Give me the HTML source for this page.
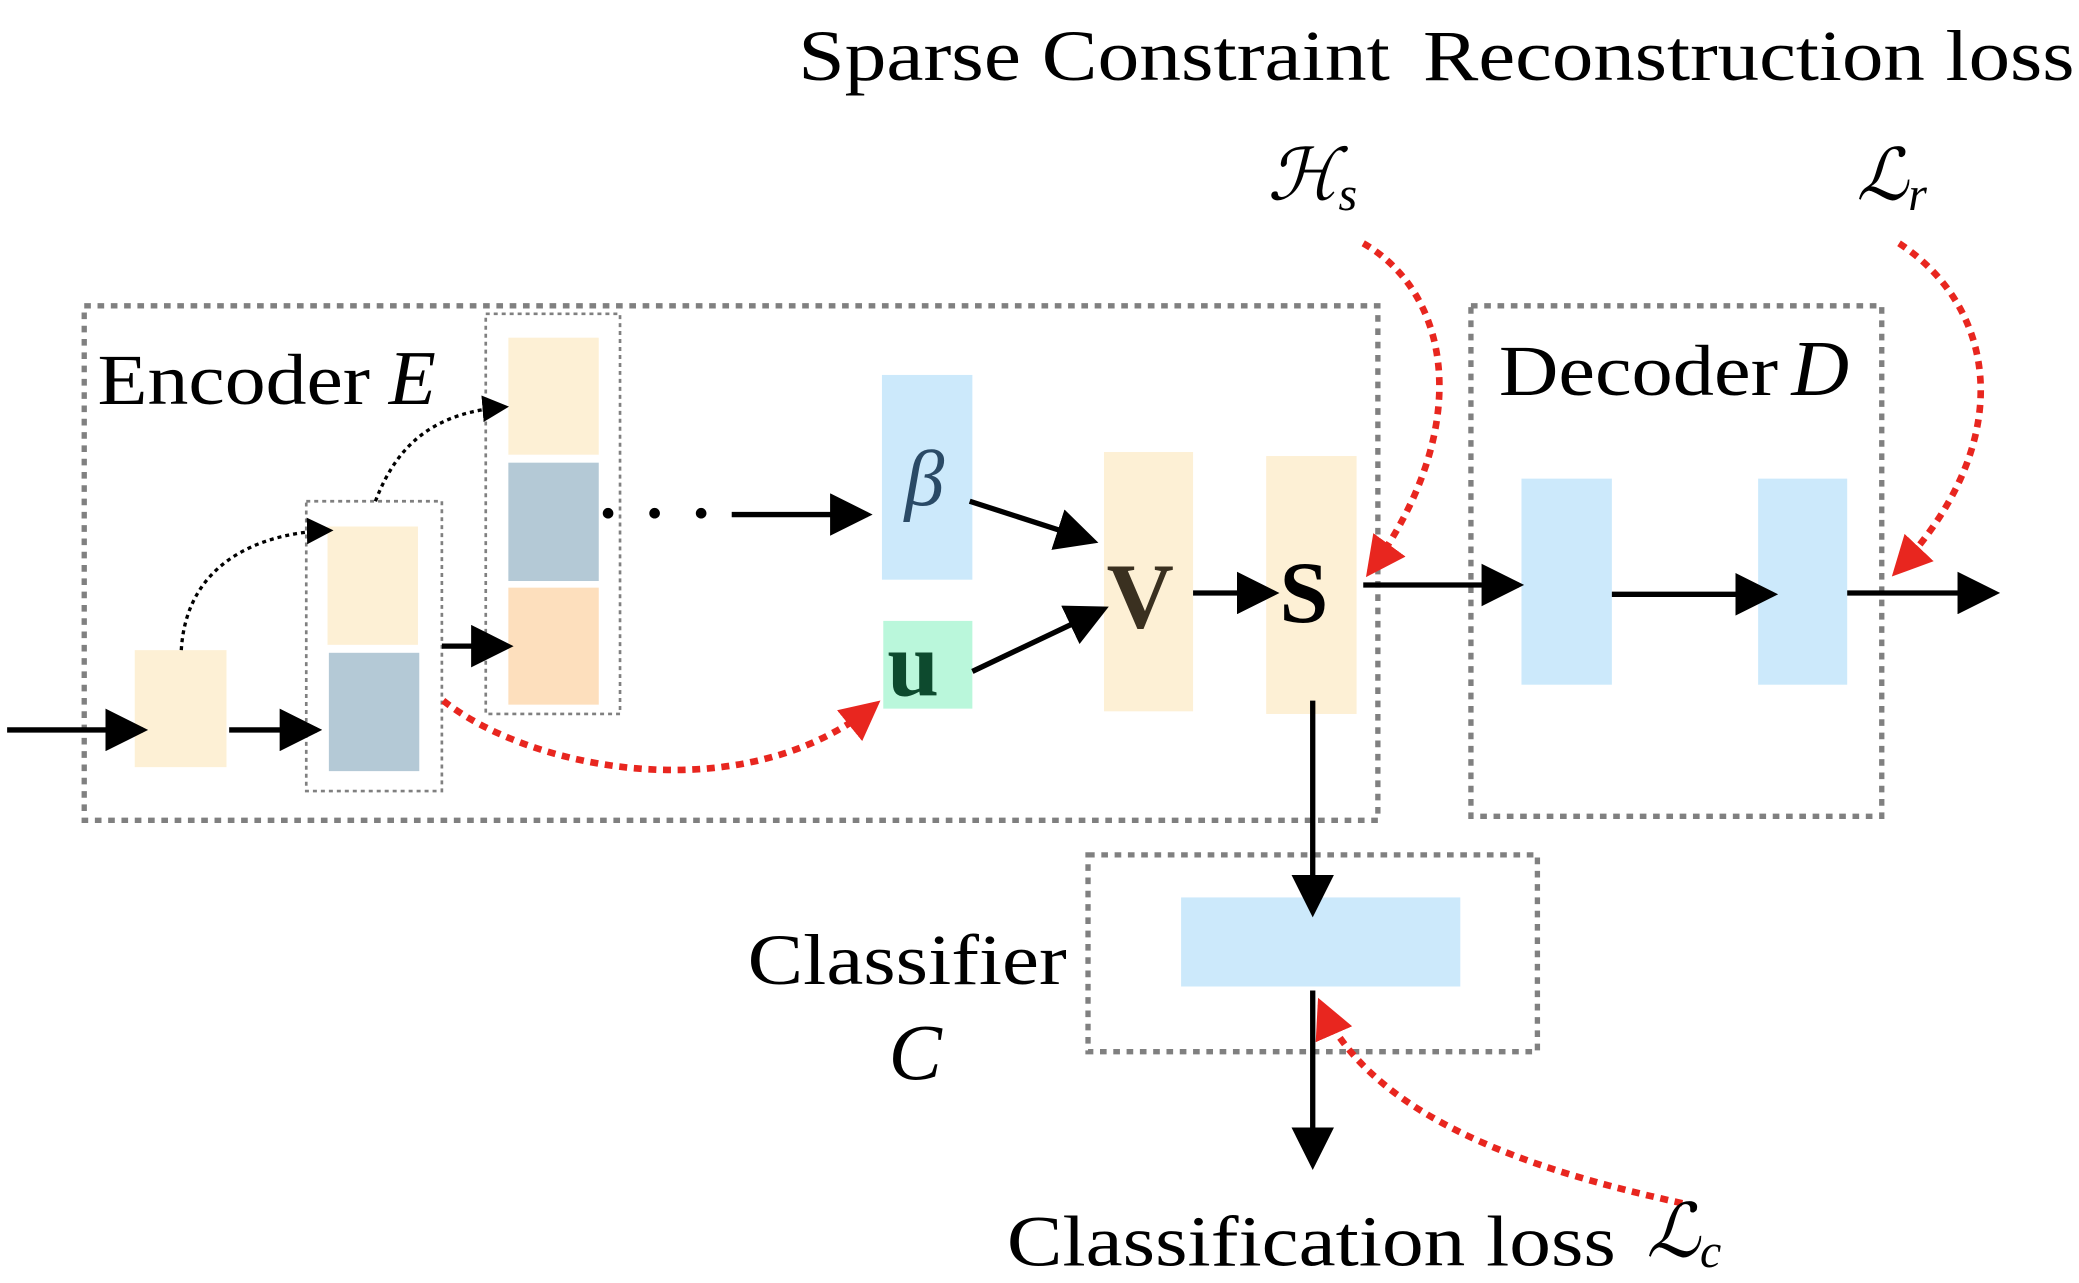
<!DOCTYPE html>
<html><head><meta charset="utf-8"><style>
html,body{margin:0;padding:0;background:#fff;}
svg{display:block;}
text{font-family:"Liberation Serif",serif;fill:#000;}
.it{font-style:italic;}
</style></head><body>
<svg width="2079" height="1283" viewBox="0 0 1563 965" xmlns="http://www.w3.org/2000/svg">
<defs>
<marker id="ah" markerWidth="8" markerHeight="8" refX="7" refY="4" orient="auto" markerUnits="strokeWidth"><path d="M0,0 L8,4 L0,8 z" fill="#000"/></marker>
<marker id="ahs" markerWidth="8" markerHeight="8" refX="7" refY="4" orient="auto" markerUnits="strokeWidth"><path d="M0,0 L8,4 L0,8 z" fill="#000"/></marker>
<marker id="ar" markerWidth="6" markerHeight="6" refX="5" refY="3" orient="auto" markerUnits="strokeWidth"><path d="M0,0 L6,3 L0,6 z" fill="#e8261f"/></marker>
</defs>
<g fill="none" stroke="#808080" stroke-width="4" stroke-dasharray="5,5">
<rect x="63" y="230" width="973" height="387"/>
<rect x="1106" y="230" width="309" height="384"/>
<rect x="818" y="643" width="338" height="148"/>
</g>
<g fill="none" stroke="#808080" stroke-width="2" stroke-dasharray="3,3">
<rect x="230" y="377" width="102" height="218"/>
<rect x="365" y="236" width="101" height="301"/>
</g>
<rect x="101" y="489" width="69" height="88" fill="#fdf0d5"/>
<rect x="246" y="396" width="68" height="89" fill="#fdf0d5"/>
<rect x="247" y="491" width="68" height="89" fill="#b4c9d6"/>
<rect x="382" y="254" width="68" height="88" fill="#fdf0d5"/>
<rect x="382" y="348" width="68" height="89" fill="#b4c9d6"/>
<rect x="382" y="442" width="68" height="88" fill="#fddfbd"/>
<rect x="663" y="282" width="68" height="154" fill="#cce9fb"/>
<rect x="664" y="467" width="67" height="66" fill="#baf7db"/>
<rect x="830" y="340" width="67" height="195" fill="#fdf0d5"/>
<rect x="952" y="343" width="68" height="194" fill="#fdf0d5"/>
<rect x="1144" y="360" width="68" height="155" fill="#cce9fb"/>
<rect x="1322" y="360" width="67" height="155" fill="#cce9fb"/>
<rect x="888" y="675" width="210" height="67" fill="#cce9fb"/>
<g stroke="#000" stroke-width="4" fill="none">
<line x1="5" y1="549" x2="107" y2="549" marker-end="url(#ah)"/>
<line x1="172" y1="549" x2="238" y2="549" marker-end="url(#ah)"/>
<line x1="332" y1="486" x2="382" y2="486" marker-end="url(#ah)"/>
<line x1="550" y1="387" x2="652" y2="387" marker-end="url(#ah)"/>
<line x1="729" y1="377" x2="822" y2="407" marker-end="url(#ah)"/>
<line x1="731" y1="505" x2="830" y2="458" marker-end="url(#ah)"/>
<line x1="897" y1="446" x2="958" y2="446" marker-end="url(#ah)"/>
<line x1="1025" y1="440" x2="1142" y2="440" marker-end="url(#ah)"/>
<line x1="1212" y1="447" x2="1333" y2="447" marker-end="url(#ah)"/>
<line x1="1389" y1="446" x2="1500" y2="446" marker-end="url(#ah)"/>
<line x1="987" y1="527" x2="987" y2="686" marker-end="url(#ah)"/>
<line x1="987" y1="745" x2="987" y2="876" marker-end="url(#ah)"/>
</g>
<g fill="#000"><circle cx="457" cy="386" r="4"/><circle cx="492" cy="386" r="4"/><circle cx="527" cy="386" r="4"/></g>
<g stroke="#000" stroke-width="2.5" stroke-dasharray="3,3" fill="none">
<path d="M136,489 C140,420 200,400 248,399" marker-end="url(#ahs)"/>
<path d="M282,377 C300,330 330,310 380,306" marker-end="url(#ahs)"/>
</g>
<g stroke="#e8261f" stroke-width="5" stroke-dasharray="6,5" fill="none">
<path d="M333,527 C400,580 560,610 658,530" marker-end="url(#ar)"/>
<path d="M1025,183 C1090,220 1110,320 1030,430" marker-end="url(#ar)"/>
<path d="M1428,183 C1500,230 1520,330 1426,430" marker-end="url(#ar)"/>
<path d="M1265,905 C1150,880 1030,840 993,755" marker-end="url(#ar)"/>
</g>
<text x="600" y="60" font-size="54" textLength="445" lengthAdjust="spacingAndGlyphs">Sparse Constraint</text>
<text x="1070" y="60" font-size="54" textLength="490" lengthAdjust="spacingAndGlyphs">Reconstruction loss</text>
<text x="953" y="150" font-size="54" class="it">ℋ<tspan font-size="36" dy="8">s</tspan></text>
<text x="1396" y="150" font-size="54" class="it">ℒ<tspan font-size="36" dy="8">r</tspan></text>
<text x="73" y="304" font-size="54" textLength="205" lengthAdjust="spacingAndGlyphs">Encoder</text>
<text x="292" y="304" font-size="58" class="it">E</text>
<text x="1127" y="297" font-size="54" textLength="210" lengthAdjust="spacingAndGlyphs">Decoder</text>
<text x="1347" y="297" font-size="60" class="it">D</text>
<text x="680" y="380" font-size="60" class="it" style="fill:#2a4a66">β</text>
<text x="667" y="523" font-size="70" font-weight="bold" style="fill:#0d4a2e">u</text>
<text x="832" y="472" font-size="70" font-weight="bold" style="fill:#3a3020">V</text>
<text x="962" y="468" font-size="66" font-weight="bold">S</text>
<text x="562" y="740" font-size="54" textLength="240" lengthAdjust="spacingAndGlyphs">Classifier</text>
<text x="668" y="812" font-size="60" class="it">C</text>
<text x="757" y="952" font-size="54" textLength="458" lengthAdjust="spacingAndGlyphs">Classification loss</text>
<text x="1238" y="945" font-size="56" class="it">ℒ<tspan font-size="36" dy="8">c</tspan></text>
</svg>
</body></html>
